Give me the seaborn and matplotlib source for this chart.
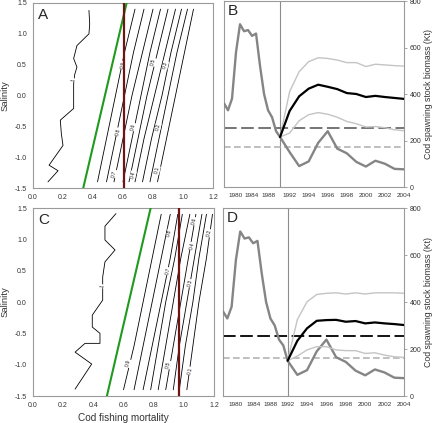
import numpy as np
import pandas as pd
import matplotlib
matplotlib.use("Agg")
import matplotlib.pyplot as plt
import seaborn as sns

# ---- contour panels (A, C): x = cod fishing mortality at these salinity levels
SAL_PTS = [-1.4, -0.7, 0.0, 0.7, 1.4]
LEVELS = ["0.9", "0.8", "0.7", "0.6", "0.5", "0.4", "0.3", "0.2", "0.1"]

A_CONTOURS = [
    [0.43, 0.49, 0.55, 0.61, 0.68],
    [0.49, 0.55, 0.61, 0.67, 0.74],
    [0.54, 0.60, 0.66, 0.73, 0.80],
    [0.60, 0.66, 0.72, 0.78, 0.85],
    [0.64, 0.70, 0.76, 0.83, 0.90],
    [0.68, 0.74, 0.81, 0.88, 0.95],
    [0.73, 0.79, 0.86, 0.92, 0.99],
    [0.78, 0.84, 0.90, 0.96, 1.03],
    [0.83, 0.89, 0.95, 1.01, 1.07],
]
C_CONTOURS = [
    [0.60, 0.67, 0.73, 0.79, 0.85],
    [0.67, 0.73, 0.79, 0.85, 0.91],
    [0.73, 0.79, 0.85, 0.91, 0.96],
    [0.78, 0.83, 0.88, 0.94, 0.99],
    [0.83, 0.88, 0.93, 0.98, 1.04],
    [0.88, 0.93, 0.98, 1.03, 1.08],
    [0.93, 0.97, 1.02, 1.07, 1.12],
    [0.97, 1.01, 1.06, 1.10, 1.15],
    [1.02, 1.06, 1.10, 1.15, 1.19],
]
# the wiggly "1" contour
A_ONE_F = [0.10, 0.167, 0.107, 0.20, 0.189, 0.182, 0.271, 0.271, 0.278, 0.293, 0.271, 0.293, 0.373, 0.378, 0.373]
A_ONE_S = [-1.40, -1.22, -1.13, -0.81, -0.62, -0.40, -0.21, 0.19, 0.34, 0.46, 0.60, 0.81, 1.00, 1.16, 1.38]
C_ONE_F = [0.279, 0.389, 0.279, 0.345, 0.444, 0.444, 0.393, 0.393, 0.462, 0.462, 0.477, 0.544, 0.477, 0.477, 0.55]
C_ONE_S = [-1.39, -0.99, -0.80, -0.66, -0.66, -0.50, -0.40, -0.21, 0.03, 0.40, 0.64, 0.83, 0.99, 1.21, 1.41]

# contour label positions (level, F, salinity)
A_LABELS = [("1", 0.27, 0.25), ("0.9", 0.604, 0.49), ("0.5", 0.804, 0.54), ("0.3", 0.882, 0.49),
            ("0.8", 0.567, -0.59), ("0.6", 0.667, -0.51), ("0.2", 0.833, -0.51),
            ("0.7", 0.544, -1.27), ("0.4", 0.667, -1.29), ("0.1", 0.827, -1.21)]
C_LABELS = [("1", 0.462, 0.25), ("0.8", 0.906, 1.10), ("0.6", 1.07, 1.29), ("0.2", 1.167, 1.10),
            ("0.4", 1.056, 0.89), ("0.7", 0.895, 0.49), ("0.3", 1.04, 0.30),
            ("0.9", 0.63, -0.98), ("0.5", 0.895, -1.0), ("0.1", 1.04, -1.1)]

# reference lines: green (F vs salinity) and dark red (F)
A_GREEN_F = [0.335, 0.624]
C_GREEN_F = [0.49, 0.78]
GREEN_S = [-1.5, 1.5]
A_RED_F = 0.607
C_RED_F = 0.97

# ---- biomass panels (B, D)
HIST_YEARS = list(range(1977, 2005))
HIST_SSB = [360, 330, 380, 580, 700, 670, 675, 650, 660, 520, 400, 330, 300, 240, 215,
            150, 90, 110, 190, 240, 165, 145, 108, 88, 113, 100, 78, 76]

B_YEARS = list(range(1991, 2005))
B_MEDIAN = [215, 327, 390, 423, 440, 431, 421, 404, 400, 387, 392, 387, 383, 379]
B_UPPER = [215, 410, 496, 539, 556, 553, 546, 535, 535, 518, 528, 525, 522, 520]
B_LOWER = [215, 232, 285, 311, 320, 313, 300, 282, 272, 258, 260, 255, 246, 242]

D_YEARS = list(range(1992, 2005))
D_MEDIAN = [150, 235, 288, 320, 323, 324, 316, 319, 309, 313, 309, 306, 302]
D_UPPER = [150, 325, 401, 432, 437, 439, 434, 439, 434, 439, 439, 439, 437]
D_LOWER = [150, 170, 196, 210, 210, 196, 193, 193, 181, 184, 174, 167, 164]

B_BPA, B_BLIM = 254, 170
D_BPA, D_BLIM = 257, 160

SSB_TICKS = [0, 200, 400, 600, 800]
YEAR_TICKS = [1980, 1984, 1988, 1992, 1994, 1996, 1998, 2000, 2002, 2004]

sns.set_style("white")
plt.rcParams["font.family"] = ["Liberation Sans", "DejaVu Sans"]

GRID = "#9a9a9a"
TXT = "#333333"

fig = plt.figure(figsize=(4.32, 4.23), dpi=100)
axA = fig.add_axes([33 / 432, 1 - 188 / 423, 180 / 432, 185 / 423])
axB = fig.add_axes([224 / 432, 1 - 187 / 423, 180 / 432, 186 / 423])
axC = fig.add_axes([33 / 432, 1 - 396 / 423, 181 / 432, 188 / 423])
axD = fig.add_axes([223 / 432, 1 - 396 / 423, 181 / 432, 188 / 423])


def style_axes(ax):
    for s in ax.spines.values():
        s.set_color(GRID)
        s.set_linewidth(0.8)
    ax.tick_params(which="both", direction="out", length=2.5, width=0.6, color=GRID,
                   labelsize=5, labelcolor=TXT, pad=2)


def contour_panel(ax, contours, one_f, one_s, labels, green_f, red_f, letter, xlabel):
    for lev, xs in zip(LEVELS, contours):
        df = pd.DataFrame({"F": xs, "S": SAL_PTS})
        sns.lineplot(data=df, x="F", y="S", sort=False, estimator=None, color="black",
                     lw=0.6, ax=ax)
    df1 = pd.DataFrame({"F": one_f, "S": one_s})
    sns.lineplot(data=df1, x="F", y="S", sort=False, estimator=None, color="black", lw=0.6, ax=ax)
    for txt, fx, sy in labels:
        ax.text(fx, sy, txt, fontsize=3.8, rotation=76, ha="center", va="center", color="#222222",
                bbox=dict(facecolor="white", edgecolor="none", pad=0.3), zorder=3)
    ax.plot(green_f, GREEN_S, color="#1f9a1f", lw=1.5, zorder=4)
    ax.axvline(red_f, color="#6e1414", lw=1.6, zorder=4)
    ax.set_xlim(0, 1.2)
    ax.set_ylim(-1.5, 1.5)
    ax.set_xticks(np.arange(0, 1.21, 0.2))
    ax.set_xticklabels([f"{v:.1f}" for v in np.arange(0, 1.21, 0.2)])
    ax.set_yticks(np.arange(-1.5, 1.51, 0.5))
    ax.set_yticklabels([f"{v:.1f}" for v in np.arange(-1.5, 1.51, 0.5)])
    ax.set_ylabel("Salinity", fontsize=6.8, color=TXT, labelpad=4)
    ax.set_xlabel(xlabel, fontsize=7.2, color=TXT, labelpad=3)
    ax.text(0.03, 0.975, letter, transform=ax.transAxes, fontsize=11, va="top", ha="left")
    style_axes(ax)


def biomass_panel(ax, brk, ratio, years, med, up, lo, bpa, blim, bpa_color, letter):
    def fwd(x):
        x = np.asarray(x, dtype=float)
        return np.where(x < brk, x, brk + ratio * (x - brk))

    def inv(y):
        y = np.asarray(y, dtype=float)
        return np.where(y < brk, y, brk + (y - brk) / ratio)

    ax.set_xscale("function", functions=(fwd, inv))
    ax.axhline(bpa, color=bpa_color, lw=1.3, dashes=(7, 2.5), zorder=2)
    ax.axhline(blim, color="#b4b4b4", lw=1.2, dashes=(4, 2), zorder=2)
    ax.axvline(brk, color="#8c8c8c", lw=0.8, zorder=1)
    hist = pd.DataFrame({"year": HIST_YEARS, "ssb": HIST_SSB})
    sns.lineplot(data=hist, x="year", y="ssb", color="#858585", lw=1.7, ax=ax, zorder=3)
    proj = pd.DataFrame({"year": years, "med": med, "up": up, "lo": lo})
    sns.lineplot(data=proj, x="year", y="up", color="#c4c4c4", lw=1.0, ax=ax, zorder=3)
    sns.lineplot(data=proj, x="year", y="lo", color="#c4c4c4", lw=1.0, ax=ax, zorder=3)
    sns.lineplot(data=proj, x="year", y="med", color="black", lw=1.6, ax=ax, zorder=4)
    ax.set_xlim(1977, 2004)
    ax.set_ylim(0, 800)
    ax.set_xticks(YEAR_TICKS)
    ax.set_xticklabels([str(y) for y in YEAR_TICKS])
    ax.minorticks_off()
    ax.yaxis.tick_right()
    ax.yaxis.set_label_position("right")
    ax.set_yticks(SSB_TICKS)
    ax.set_xlabel("")
    ax.set_ylabel("Cod spawning stock biomass (Kt)", fontsize=6.3, color=TXT, labelpad=2)
    ax.text(0.02, 0.985, letter, transform=ax.transAxes, fontsize=11, va="top", ha="left")
    style_axes(ax)
    ax.tick_params(axis="x", labelsize=4.6)
    ax.tick_params(axis="y", pad=1.5)


contour_panel(axA, A_CONTOURS, A_ONE_F, A_ONE_S, A_LABELS, A_GREEN_F, A_RED_F, "A", "")
contour_panel(axC, C_CONTOURS, C_ONE_F, C_ONE_S, C_LABELS, C_GREEN_F, C_RED_F, "C",
              "Cod fishing mortality")
biomass_panel(axB, 1991, 2.38, B_YEARS, B_MEDIAN, B_UPPER, B_LOWER, B_BPA, B_BLIM, "#6a6a6a", "B")
biomass_panel(axD, 1992, 2.25, D_YEARS, D_MEDIAN, D_UPPER, D_LOWER, D_BPA, D_BLIM, "black", "D")

fig.savefig("out.png", dpi=100)
